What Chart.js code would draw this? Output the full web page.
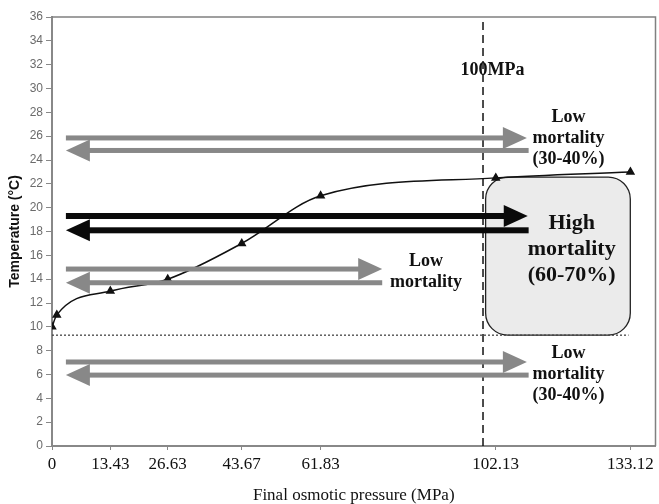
<!DOCTYPE html>
<html>
<head>
<meta charset="utf-8">
<script src="https://cdn.jsdelivr.net/npm/chart.js@4.4.0/dist/chart.umd.min.js"></script>
<style>
  html, body { margin: 0; padding: 0; background: #fff; overflow: hidden; }
  #wrap { width: 661px; height: 504px; }
</style>
</head>
<body>
<div id="wrap"><canvas id="myChart"></canvas></div>
<script>
// measured curve
const pressure = [0, 1.1, 13.43, 26.63, 43.67, 61.83, 102.13, 133.12];
const temperature = [10, 11, 13, 14, 17, 21, 22.5, 23];
const xTickValues = [0, 13.43, 26.63, 43.67, 61.83, 102.13, 133.12];
const yTickValues = [0, 2, 4, 6, 8, 10, 12, 14, 16, 18, 20, 22, 24, 26, 28, 30, 32, 34, 36];

// reference lines
const limitPressure = 99.2;   // dashed "100MPa" line, as drawn
const baseTemp = 9.3;         // dotted line
const baseEnd = 132.7;

// arrows (pressure from/to, temperature)
const arrowFrom = [3.2, 3.2, 3.2, 3.2, 3.2, 3.2, 3.2, 3.2];
const arrowTo = [109.3, 109.7, 109.5, 109.7, 76.0, 76.0, 109.3, 109.7];
const arrowTemp = [25.85, 24.8, 19.3, 18.1, 14.85, 13.7, 7.05, 5.95];
const arrowRight = [true, false, true, false, true, false, true, false];
const arrowDark = [false, false, true, true, false, false, false, false];

// high mortality box (pressure, temperature)
const boxPressure = [99.8, 133.1];
const boxTemp = [9.31, 22.57];

// notes
const noteText = [
  ['Low', 'mortality', '(30-40%)'],
  ['High', 'mortality', '(60-70%)'],
  ['Low', 'mortality'],
  ['Low', 'mortality', '(30-40%)'],
  ['100MPa']
];
const noteX = [118.9, 119.6, 86.1, 118.9, 101.4];
const noteY = [27.6, 18.7, 15.5, 7.8, 31.5];
const noteBig = [false, true, false, false, false];

const serif = '"Liberation Serif", "Times New Roman", serif';

function arrow(ctx, x1, x2, y, right, color, lw) {
  const head = 24, half = 11;
  ctx.save();
  ctx.fillStyle = color;
  if (right) {
    ctx.fillRect(x1, y - lw / 2, x2 - head - x1 + 1, lw);
    ctx.beginPath();
    ctx.moveTo(x2 - head, y - half);
    ctx.lineTo(x2, y);
    ctx.lineTo(x2 - head, y + half);
    ctx.closePath();
    ctx.fill();
  } else {
    ctx.fillRect(x1 + head - 1, y - lw / 2, x2 - x1 - head + 1, lw);
    ctx.beginPath();
    ctx.moveTo(x1 + head, y - half);
    ctx.lineTo(x1, y);
    ctx.lineTo(x1 + head, y + half);
    ctx.closePath();
    ctx.fill();
  }
  ctx.restore();
}

const extras = {
  id: 'extras',
  beforeDatasetsDraw(chart) {
    const {ctx, scales: {x, y}} = chart;
    const l = x.getPixelForValue(boxPressure[0]), r = x.getPixelForValue(boxPressure[1]);
    const t = y.getPixelForValue(boxTemp[1]), b = y.getPixelForValue(boxTemp[0]);
    ctx.save();
    ctx.beginPath();
    ctx.roundRect(l, t, r - l, b - t, 22);
    ctx.fillStyle = '#ebebeb';
    ctx.fill();
    ctx.lineWidth = 1.3;
    ctx.strokeStyle = '#222';
    ctx.stroke();
    ctx.restore();
  },
  afterDatasetsDraw(chart) {
    const {ctx, chartArea, scales: {x, y}} = chart;
    for (let i = 0; i < arrowTemp.length; i++) {
      arrow(ctx, x.getPixelForValue(arrowFrom[i]), x.getPixelForValue(arrowTo[i]),
        y.getPixelForValue(arrowTemp[i]), arrowRight[i],
        arrowDark[i] ? '#0a0a0a' : '#888', arrowDark[i] ? 6 : 5);
    }
    ctx.save();
    ctx.fillStyle = '#111';
    ctx.textAlign = 'center';
    ctx.textBaseline = 'middle';
    for (let i = 0; i < noteText.length; i++) {
      const size = noteBig[i] ? 22 : 18;
      const gap = noteBig[i] ? 26 : 21;
      ctx.font = 'bold ' + size + 'px ' + serif;
      const px = x.getPixelForValue(noteX[i]);
      const py = y.getPixelForValue(noteY[i]);
      noteText[i].forEach((s, k) => ctx.fillText(s, px, py + k * gap));
    }
    // frame top and right
    ctx.strokeStyle = '#808080';
    ctx.lineWidth = 1.5;
    ctx.beginPath();
    ctx.moveTo(chartArea.left, chartArea.top);
    ctx.lineTo(chartArea.right, chartArea.top);
    ctx.lineTo(chartArea.right, chartArea.bottom);
    ctx.stroke();
    ctx.restore();
  }
};

const ctx = document.getElementById('myChart').getContext('2d');
new Chart(ctx, {
  type: 'line',
  data: {
    datasets: [{
      data: pressure.map((p, i) => ({x: p, y: temperature[i]})),
      borderColor: '#111',
      borderWidth: 1.5,
      cubicInterpolationMode: 'monotone',
      pointStyle: 'triangle',
      pointRadius: 4,
      pointBackgroundColor: '#111',
      pointBorderColor: '#111',
      order: 1
    }, {
      data: [{x: 0, y: baseTemp}, {x: baseEnd, y: baseTemp}],
      borderColor: '#444',
      borderWidth: 1.3,
      borderDash: [2, 2],
      pointRadius: 0,
      order: 2
    }, {
      data: [{x: limitPressure, y: 0}, {x: limitPressure, y: 36}],
      borderColor: '#111',
      borderWidth: 1.5,
      borderDash: [8, 5],
      pointRadius: 0,
      order: 3
    }]
  },
  options: {
    responsive: true,
    maintainAspectRatio: false,
    animation: false,
    layout: { padding: { top: 17, right: 0, left: 0, bottom: 0 } },
    plugins: { legend: { display: false }, tooltip: { enabled: false } },
    scales: {
      x: {
        type: 'linear',
        min: 0,
        max: 138.9,
        afterFit: s => { s.height = 58; s.paddingLeft = 0; s.paddingRight = 0; },
        afterBuildTicks: s => { s.ticks = xTickValues.map(v => ({value: v})); },
        border: { color: '#888', width: 2 },
        grid: { drawOnChartArea: false, tickLength: 4, color: '#888' },
        ticks: {
          autoSkip: false, maxRotation: 0, padding: 4,
          color: '#111',
          font: { family: serif, size: 17 },
          callback: v => String(v)
        },
        title: {
          display: true,
          text: 'Final osmotic pressure (MPa)',
          color: '#111',
          font: { family: serif, size: 17, lineHeight: 1 },
          padding: { top: 0, bottom: 0 }
        }
      },
      y: {
        min: 0,
        max: 36,
        afterFit: s => { s.width = 52; s.paddingTop = 0; s.paddingBottom = 0; },
        afterBuildTicks: s => { s.ticks = yTickValues.map(v => ({value: v})); },
        border: { color: '#888', width: 2 },
        grid: { drawOnChartArea: false, tickLength: 6, color: '#888' },
        ticks: {
          padding: 3,
          color: '#6b6b6b',
          font: { family: 'Arial, "Liberation Sans", sans-serif', size: 12 }
        },
        title: {
          display: true,
          text: 'Temperature (°C)',
          color: '#111',
          font: { family: 'Arial, "Liberation Sans", sans-serif', size: 14, weight: 'bold' },
          padding: { top: 7, bottom: 0 }
        }
      }
    }
  },
  plugins: [extras]
});
</script>
</body>
</html>
